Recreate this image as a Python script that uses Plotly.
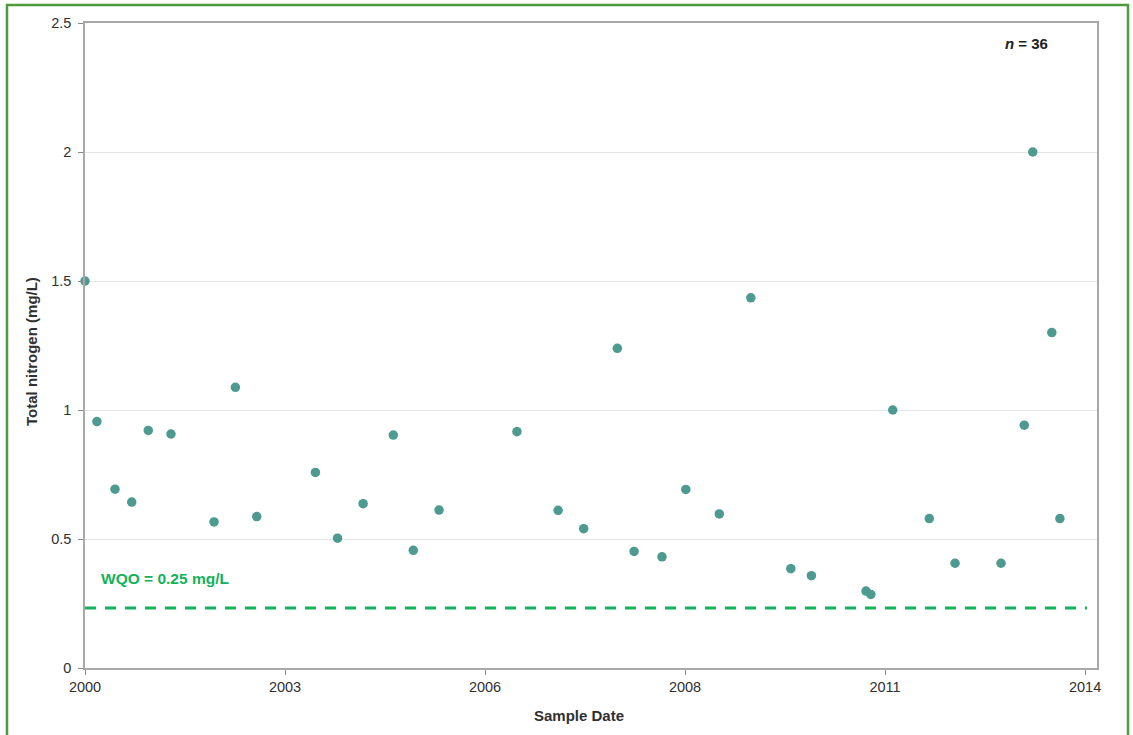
import pandas as pd
import plotly.graph_objects as go

# Sample dates and total nitrogen values (mg/L)
sample_dates = [
    "2000-05-01", "2000-07-02", "2000-10-04", "2000-12-30", "2001-03-26", "2001-07-22",
    "2002-03-03", "2002-06-22", "2002-10-11", "2003-08-12", "2003-12-05", "2004-04-16",
    "2004-09-20", "2005-01-02", "2005-05-16", "2006-06-25", "2007-01-25", "2007-06-07",
    "2007-11-29", "2008-02-24", "2008-07-18", "2008-11-19", "2009-05-12", "2009-10-23",
    "2010-05-19", "2010-09-03", "2011-06-14", "2011-07-09", "2011-10-31", "2012-05-08",
    "2012-09-19", "2013-05-16", "2013-09-14", "2013-10-28", "2014-02-04", "2014-03-18",
]
total_nitrogen = [
    1.50, 0.955, 0.693, 0.643, 0.921, 0.907,
    0.566, 1.088, 0.587, 0.758, 0.503, 0.637,
    0.903, 0.456, 0.612, 0.916, 0.611, 0.540,
    1.239, 0.452, 0.431, 0.692, 0.597, 1.435,
    0.385, 0.358, 0.298, 0.285, 1.00, 0.579,
    0.406, 0.406, 0.941, 2.00, 1.30, 0.579,
]
y_ticks = [0, 0.5, 1, 1.5, 2, 2.5]
y_tick_labels = ["0", "0.5", "1", "1.5", "2", "2.5"]
wqo_value = 0.233  # drawn position of the WQO line in the reference
wqo_label = "WQO = 0.25 mg/L"
n_label = "<b><i>n</i> = 36</b>"

axis_start = pd.Timestamp("2000-05-01")
major_unit = pd.Timedelta(days=1040)
x_tickvals = [axis_start + k * major_unit for k in range(6)]
axis_end = axis_start + pd.Timedelta(days=5262)

FONT = "Liberation Sans, Arial, sans-serif"
GREEN = "#12b25a"

fig = go.Figure()
fig.add_trace(go.Scatter(
    x=pd.to_datetime(sample_dates), y=total_nitrogen, mode="markers",
    marker=dict(size=9.5, color="#4c9a90", line=dict(width=0)),
    cliponaxis=False, showlegend=False,
))
fig.add_trace(go.Scatter(
    x=[axis_start, x_tickvals[-1] + pd.Timedelta(days=10)], y=[wqo_value, wqo_value],
    mode="lines", line=dict(color=GREEN, width=3, dash="11px,9px"),
    showlegend=False, hoverinfo="skip",
))

fig.update_layout(
    width=1133, height=735,
    margin=dict(l=85, r=36, t=23, b=67),
    paper_bgcolor="white", plot_bgcolor="white",
    font=dict(family=FONT, size=14, color="#303030"),
    xaxis=dict(
        type="date", range=[axis_start, axis_end],
        tickmode="array", tickvals=x_tickvals, tickformat="%Y",
        ticks="outside", ticklen=5, tickcolor="#8a8a8a",
        showline=True, linecolor="#a8a8a8", linewidth=1.5, mirror=True,
        showgrid=False, zeroline=False,
        tickfont=dict(size=14.5, color="#303030"),
    ),
    yaxis=dict(
        range=[0, 2.5], tickmode="array", tickvals=y_ticks, ticktext=y_tick_labels,
        ticks="outside", ticklen=5, tickcolor="#8a8a8a", ticklabelstandoff=4,
        showline=True, linecolor="#a8a8a8", linewidth=1.5, mirror=True,
        showgrid=True, gridcolor="#e6e6e6", gridwidth=1, zeroline=False,
        tickfont=dict(size=14.5, color="#303030"),
    ),
    annotations=[
        dict(text="<b>Sample Date</b>", xref="paper", yref="paper",
             x=(579 - 85) / 1012, y=(668 - 715) / 645, showarrow=False,
             font=dict(size=15, color="#303030"), xanchor="center", yanchor="middle"),
        dict(text="<b>Total nitrogen (mg/L)</b>", xref="paper", yref="paper",
             x=(31 - 85) / 1012, y=(668 - 352) / 645, showarrow=False, textangle=-90,
             font=dict(size=15, color="#303030"), xanchor="center", yanchor="middle"),
        dict(text=n_label, xref="paper", yref="paper",
             x=(1026 - 85) / 1012, y=(668 - 43) / 645, showarrow=False,
             font=dict(size=15, color="#202020"), xanchor="center", yanchor="middle"),
        dict(text="<b>" + wqo_label + "</b>", xref="paper", yref="paper",
             x=(99 - 85) / 1012, y=(668 - 578) / 645, showarrow=False,
             font=dict(size=15.5, color=GREEN), xanchor="left", yanchor="middle"),
    ],
    shapes=[
        dict(type="rect", xref="paper", yref="paper",
             x0=(7 - 85) / 1012, x1=(1128 - 85) / 1012,
             y0=(668 - 745) / 645, y1=(668 - 5) / 645,
             line=dict(color="#4d9b3c", width=2.5), fillcolor="rgba(0,0,0,0)", layer="below"),
    ],
)

fig.write_html("out.html", config={"displayModeBar": False},
               post_script="document.body.style.margin='0';")
